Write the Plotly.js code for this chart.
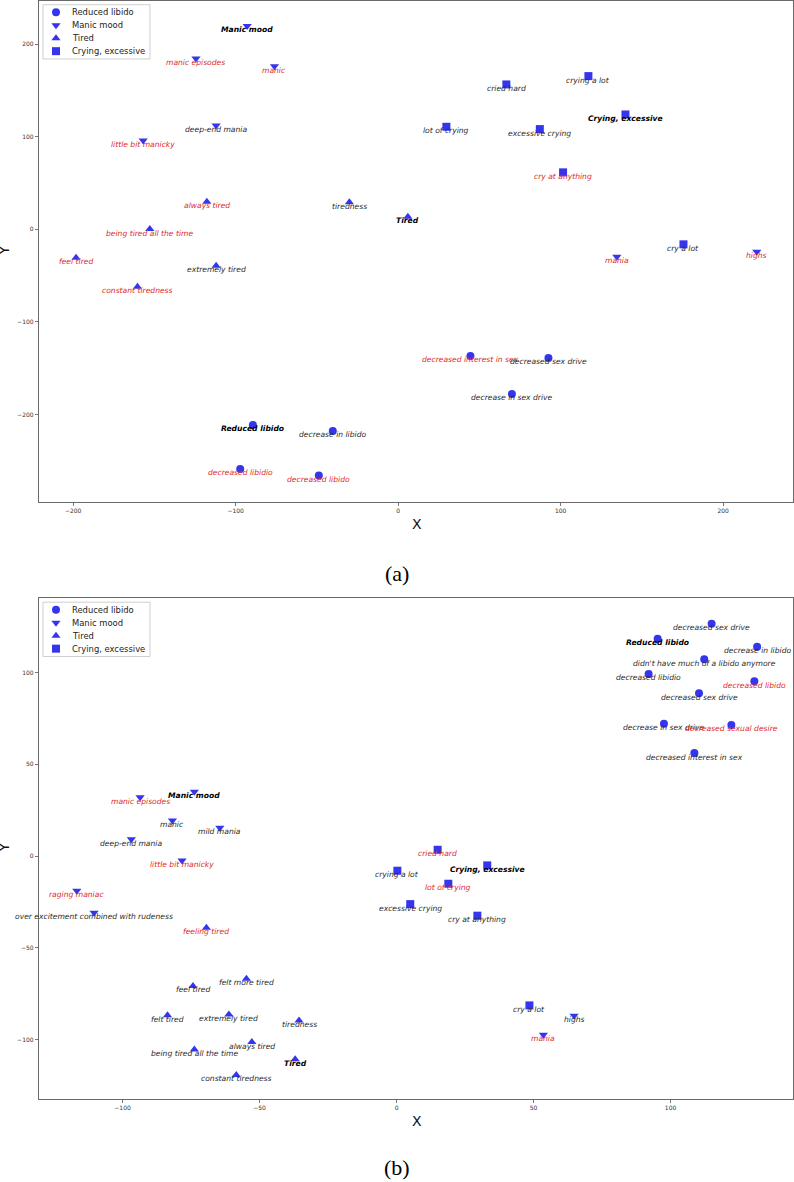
<!DOCTYPE html>
<html>
<head>
<meta charset="utf-8">
<script src="https://cdn.plot.ly/plotly-3.0.1.min.js"></script>
<style>html,body{margin:0;padding:0;background:#fff;}#chart{width:794px;height:1182px;}</style>
</head>
<body>
<div id="chart"></div>
<script>
// ---------- categories ----------
const categories = ["Reduced libido", "Manic mood", "Tired", "Crying, excessive"];
// kind: "cat" = category name, "novel" = red label, "seen" = dark label

// ---------- panel (a) ----------
const aLibidoX = [-89.4, -40.2, -97.2, -48.8, 44.5, 92.5, 70.0];
const aLibidoY = [-211.1, -217.6, -258.6, -265.8, -136.7, -138.8, -177.7];
const aLibidoText = ["Reduced libido", "decrease in libido", "decreased libidio", "decreased libido", "decreased interest in sex", "decreased sex drive", "decrease in sex drive"];
const aLibidoKind = ["cat", "seen", "novel", "novel", "novel", "seen", "seen"];

const aManicX = [-92.9, -124.4, -76.1, -112.0, -156.9, 134.6, 220.7];
const aManicY = [219.6, 184.4, 176.1, 112.2, 96.0, -29.5, -24.1];
const aManicText = ["Manic mood", "manic episodes", "manic", "deep-end mania", "little bit manicky", "mania", "highs"];
const aManicKind = ["cat", "novel", "novel", "seen", "novel", "novel", "novel"];

const aTiredX = [6.0, -117.7, -30.0, -152.8, -198.2, -112.0, -160.4];
const aTiredY = [13.6, 29.8, 29.1, 0.3, -30.6, -39.2, -61.9];
const aTiredText = ["Tired", "always tired", "tiredness", "being tired all the time", "feel tired", "extremely tired", "constant tiredness"];
const aTiredKind = ["cat", "novel", "seen", "novel", "novel", "seen", "novel"];

const aCryX = [139.9, 117.1, 66.6, 29.7, 87.2, 101.5, 175.6];
const aCryY = [124.0, 165.4, 156.4, 110.7, 108.2, 61.5, -16.2];
const aCryText = ["Crying, excessive", "crying a lot", "cried hard", "lot of crying", "excessive crying", "cry at anything", "cry a lot"];
const aCryKind = ["cat", "seen", "seen", "seen", "seen", "novel", "seen"];

// ---------- panel (b) ----------
const bLibidoX = [95.3, 115.0, 131.6, 112.3, 92.0, 130.6, 110.4, 97.6, 122.2, 108.7];
const bLibidoY = [118.4, 126.6, 114.1, 107.2, 99.2, 95.2, 88.7, 72.1, 71.4, 56.1];
const bLibidoText = ["Reduced libido", "decreased sex drive", "decrease in libido", "didn't have much of a libido anymore", "decreased libidio", "decreased libido", "decreased sex drive", "decrease in sex drive", "decreased sexual desire", "decreased interest in sex"];
const bLibidoKind = ["cat", "seen", "seen", "seen", "seen", "novel", "seen", "seen", "novel", "seen"];

const bManicX = [-73.8, -93.6, -81.8, -64.5, -96.8, -78.3, -116.7, -110.4, 64.8, 53.6];
const bManicY = [35.0, 32.0, 19.4, 15.4, 9.1, -2.5, -18.9, -30.9, -87.0, -97.4];
const bManicText = ["Manic mood", "manic episodes", "manic", "mild mania", "deep-end mania", "little bit manicky", "raging maniac", "over excitement combined with rudeness", "highs", "mania"];
const bManicKind = ["cat", "novel", "seen", "seen", "seen", "novel", "novel", "seen", "seen", "novel"];

const bTiredX = [-37.0, -69.4, -54.8, -74.3, -83.6, -61.2, -35.6, -52.8, -73.8, -58.5];
const bTiredY = [-110.8, -39.1, -66.9, -70.8, -86.8, -86.3, -89.6, -101.4, -105.4, -119.3];
const bTiredText = ["Tired", "feeling tired", "felt more tired", "feel tired", "felt tired", "extremely tired", "tiredness", "always tired", "being tired all the time", "constant tiredness"];
const bTiredKind = ["cat", "novel", "seen", "seen", "seen", "seen", "seen", "seen", "seen", "seen"];

const bCryX = [33.1, 15.0, 0.3, 18.9, 5.0, 29.5, 48.5];
const bCryY = [-5.1, 3.4, -8.0, -15.1, -26.2, -32.5, -81.4];
const bCryText = ["Crying, excessive", "cried hard", "crying a lot", "lot of crying", "excessive crying", "cry at anything", "cry a lot"];
const bCryKind = ["cat", "novel", "seen", "novel", "seen", "seen", "seen"];

// ---------- build ----------
const W = 794, H = 1182;
function paperX(px) { return px / W; }
function paperY(py) { return 1 - py / H; }

const symbols = ["circle", "triangle-down", "triangle-up", "square"];
const markerColor = "rgba(25,25,235,0.88)";
const kindStyle = {
  cat:   {color: "#000000", weight: "bold"},
  novel: {color: "#e02a2a", weight: "normal"},
  seen:  {color: "#2a2a2a", weight: "normal"}
};

const panels = [
  {xa: "x", ya: "y", top: 0, sets: [
    [aLibidoX, aLibidoY, aLibidoText, aLibidoKind],
    [aManicX, aManicY, aManicText, aManicKind],
    [aTiredX, aTiredY, aTiredText, aTiredKind],
    [aCryX, aCryY, aCryText, aCryKind]]},
  {xa: "x2", ya: "y2", top: 597.5, sets: [
    [bLibidoX, bLibidoY, bLibidoText, bLibidoKind],
    [bManicX, bManicY, bManicText, bManicKind],
    [bTiredX, bTiredY, bTiredText, bTiredKind],
    [bCryX, bCryY, bCryText, bCryKind]]}
];

const traces = [];
const annotations = [];
const shapes = [];
panels.forEach(p => {
  p.sets.forEach((s, i) => {
    traces.push({
      type: "scatter", mode: "markers",
      x: s[0], y: s[1], name: categories[i],
      xaxis: p.xa, yaxis: p.ya, showlegend: false,
      cliponaxis: false,
      marker: {symbol: symbols[i], size: 8, color: markerColor, line: {width: 0}},
      hoverinfo: "text", text: s[2]
    });
    s[2].forEach((t, j) => {
      const st = kindStyle[s[3][j]];
      annotations.push({
        x: s[0][j], y: s[1][j], xref: p.xa, yref: p.ya,
        text: t, showarrow: false, yshift: -4,
        xanchor: "center", yanchor: "middle",
        font: {family: "DejaVu Sans", size: 7.6, style: "italic", weight: st.weight, color: st.color}
      });
    });
  });

  // legend (matplotlib-like compact box), drawn on a page-pixel overlay axis
  const boxTop = p.top + 4.7, boxBottom = p.top + 59, boxLeft = 43, boxRight = 150;
  shapes.push({type: "rect", xref: "paper", yref: "paper",
    x0: paperX(boxLeft), x1: paperX(boxRight), y0: paperY(boxBottom), y1: paperY(boxTop),
    line: {color: "#cfcfcf", width: 1}, fillcolor: "rgba(255,255,255,0.9)", layer: "below"});
  const rowY = categories.map((c, i) => p.top + 12.3 + i * 12.95);
  categories.forEach((c, i) => {
    traces.push({
      type: "scatter", mode: "markers", x: [56], y: [rowY[i]],
      xaxis: "x3", yaxis: "y3", showlegend: false, cliponaxis: false, hoverinfo: "skip",
      marker: {symbol: symbols[i], size: 8, color: markerColor, line: {width: 0}}
    });
    annotations.push({
      x: 69.5, y: rowY[i], xref: "x3", yref: "y3", text: c, showarrow: false,
      xanchor: "left", yanchor: "middle",
      font: {family: "DejaVu Sans", size: 8.4, color: "#222"}
    });
  });
});

// axis titles and panel captions
annotations.push(
  {text: "X", xref: "paper", yref: "paper", x: paperX(417), y: paperY(524), showarrow: false, xanchor: "center", yanchor: "middle", font: {family: "DejaVu Sans", size: 14, color: "#111"}},
  {text: "Y", xref: "paper", yref: "paper", x: paperX(3.5), y: paperY(251), showarrow: false, textangle: -90, xanchor: "center", yanchor: "middle", font: {family: "DejaVu Sans", size: 14, color: "#111"}},
  {text: "(a)", xref: "paper", yref: "paper", x: paperX(397), y: paperY(573), showarrow: false, xanchor: "center", yanchor: "middle", font: {family: "Liberation Serif", size: 22, color: "#000"}},
  {text: "X", xref: "paper", yref: "paper", x: paperX(417), y: paperY(1121), showarrow: false, xanchor: "center", yanchor: "middle", font: {family: "DejaVu Sans", size: 14, color: "#111"}},
  {text: "Y", xref: "paper", yref: "paper", x: paperX(3.5), y: paperY(848), showarrow: false, textangle: -90, xanchor: "center", yanchor: "middle", font: {family: "DejaVu Sans", size: 14, color: "#111"}},
  {text: "(b)", xref: "paper", yref: "paper", x: paperX(397), y: paperY(1167), showarrow: false, xanchor: "center", yanchor: "middle", font: {family: "Liberation Serif", size: 22, color: "#000"}}
);

function axis(domain, range, dtick, anchor) {
  return {
    domain: domain, range: range, dtick: dtick, tick0: 0, anchor: anchor,
    showgrid: false, zeroline: false, showline: true, mirror: true,
    linecolor: "#6a6a6a", linewidth: 1.2,
    ticks: "outside", ticklen: 3, tickwidth: 0.8, tickcolor: "#555",
    tickfont: {family: "DejaVu Sans", size: 6, color: "#333"}
  };
}

const layout = {
  width: W, height: H,
  margin: {l: 0, r: 0, t: 0, b: 0},
  paper_bgcolor: "#fff", plot_bgcolor: "rgba(0,0,0,0)",
  showlegend: false,
  xaxis: axis([paperX(39), paperX(793)], [-221, 243], 100, "y"),
  yaxis: axis([paperY(501.7), paperY(0.5)], [-294, 247], 100, "x"),
  xaxis2: axis([paperX(39), paperX(793)], [-130.5, 144.7], 50, "y2"),
  yaxis2: axis([paperY(1099), paperY(598)], [-132.4, 140.6], 50, "x2"),
  xaxis3: {domain: [0, 1], range: [0, W], visible: false, anchor: "y3", fixedrange: true},
  yaxis3: {domain: [0, 1], range: [H, 0], visible: false, anchor: "x3", fixedrange: true},
  shapes: shapes,
  annotations: annotations
};

Plotly.newPlot("chart", traces, layout, {staticPlot: true, displayModeBar: false});
</script>
</body>
</html>
